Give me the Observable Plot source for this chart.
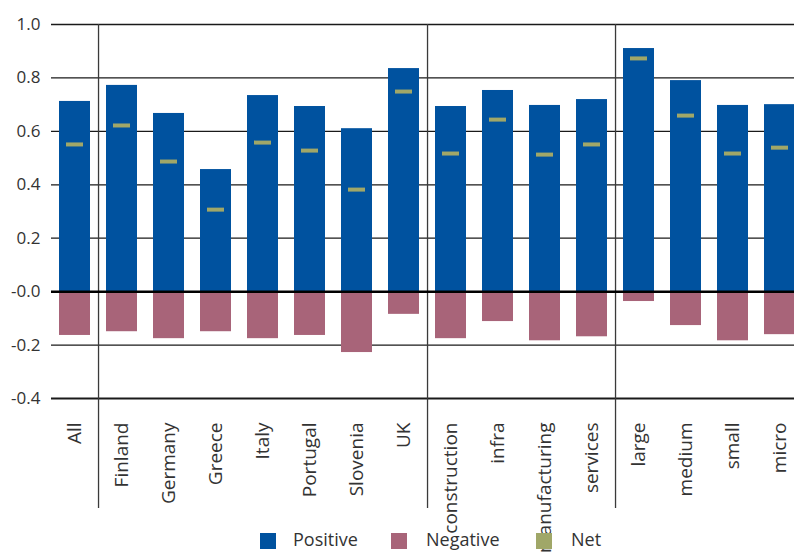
<!DOCTYPE html>
<html>
<head>
<meta charset="utf-8">
<script src="https://cdn.jsdelivr.net/npm/d3@7"></script>
<script src="https://cdn.jsdelivr.net/npm/@observablehq/plot@0.6"></script>
<style>
  html, body { margin: 0; padding: 0; background: #fff; overflow: hidden; }
  #wrap { position: relative; width: 794px; height: 552px; overflow: hidden; }
  #chart svg { max-width: none !important; }
  .lg-sw { position: absolute; top: 533px; width: 16px; height: 16px; }
  .lg-tx { position: absolute; top: 527px; font-family: "Open Sans", sans-serif; font-size: 18px;
    line-height: 24px; color: #333; white-space: nowrap; }
</style>
</head>
<body>
<div id="wrap"><div id="chart"></div><div id="legend"></div></div>
<script>
const categories = ["All","Finland","Germany","Greece","Italy","Portugal","Slovenia","UK",
  "construction","infra","manufacturing","services","large","medium","small","micro"];
const positive = [0.712,0.772,0.667,0.457,0.734,0.693,0.610,0.835,0.693,0.753,0.697,0.719,0.910,0.790,0.697,0.700];
const negative = [-0.164,-0.150,-0.176,-0.150,-0.176,-0.164,-0.228,-0.085,-0.176,-0.112,-0.184,-0.169,-0.037,-0.127,-0.184,-0.161];
const net = [0.551,0.622,0.487,0.307,0.558,0.528,0.382,0.749,0.517,0.644,0.513,0.551,0.873,0.659,0.517,0.539];
const groupEnds = ["All","UK","services"];
const yTicks = [-0.4,-0.2,0,0.2,0.4,0.6,0.8,1.0];
const yTickLabels = ["-0.4","-0.2","-0.0","0.2","0.4","0.6","0.8","1.0"];
const seriesNames = ["Positive","Negative","Net"];
const seriesColors = ["#00529f","#a86479","#a0a768"];

const rows = categories.map((c, i) => ({cat: c, pos: positive[i], neg: negative[i], net: net[i]}));

const width = 804, height = 520;
const marginLeft = 51, marginRight = 0, marginTop = 24, marginBottom = 122;
const step = (width - marginLeft - marginRight) / categories.length;

const chart = Plot.plot({
  width, height, marginLeft, marginRight, marginTop, marginBottom,
  style: {background: "#fff", overflow: "visible", maxWidth: "none"},
  x: {domain: categories, paddingInner: 0.34, paddingOuter: 0.17, axis: null},
  y: {domain: [-0.4, 1.0], axis: null},
  marks: [
    Plot.ruleY(yTicks.filter(d => d !== 0 && d !== -0.4 && d !== 1.0), {stroke: "#1a1a1a", strokeWidth: 1.3}),
    Plot.ruleY([1.0], {stroke: "#1a1a1a", strokeWidth: 1.3}),
    Plot.ruleY([-0.4], {stroke: "#1a1a1a", strokeWidth: 2}),
    Plot.ruleX(groupEnds, {x: d => d, dx: step / 2, stroke: "#3a3a3a", strokeWidth: 1.3, insetBottom: -110}),
    Plot.barY(rows, {x: "cat", y1: 0, y2: "pos", fill: seriesColors[0]}),
    Plot.barY(rows, {x: "cat", y1: 0, y2: "neg", fill: seriesColors[1]}),
    Plot.ruleY([0], {stroke: "#000", strokeWidth: 2.5}),
    Plot.tickY(rows, {x: "cat", y: "net", stroke: seriesColors[2], strokeWidth: 4, inset: 7}),
    Plot.axisY(yTicks, {tickSize: 0, tickPadding: 11, tickFormat: d => yTickLabels[yTicks.indexOf(d)],
      fontSize: 17, fill: "#333", fontFamily: "Open Sans"}),
    Plot.axisX(categories, {tickSize: 0, tickPadding: 24, tickRotate: -90, fontSize: 19,
      fill: "#333", fontFamily: "Open Sans", label: null, ariaLabel: "x-labels"})
  ]
});
document.getElementById("chart").appendChild(chart);

// condense the category labels (the reference uses a condensed face)
chart.querySelectorAll('g[aria-label="x-labels"] text').forEach(t => {
  const L = t.getComputedTextLength();
  t.setAttribute("textLength", (L * 0.69).toFixed(1));
  t.setAttribute("lengthAdjust", "spacingAndGlyphs");
});

const legend = document.getElementById("legend");
const swX = [260, 391, 536], txX = [293, 426, 571];
seriesNames.forEach((n, i) => {
  const sw = document.createElement("div");
  sw.className = "lg-sw";
  sw.style.left = swX[i] + "px";
  sw.style.background = seriesColors[i];
  const t = document.createElement("div");
  t.className = "lg-tx";
  t.style.left = txX[i] + "px";
  t.textContent = n;
  legend.appendChild(sw); legend.appendChild(t);
});
</script>
</body>
</html>
